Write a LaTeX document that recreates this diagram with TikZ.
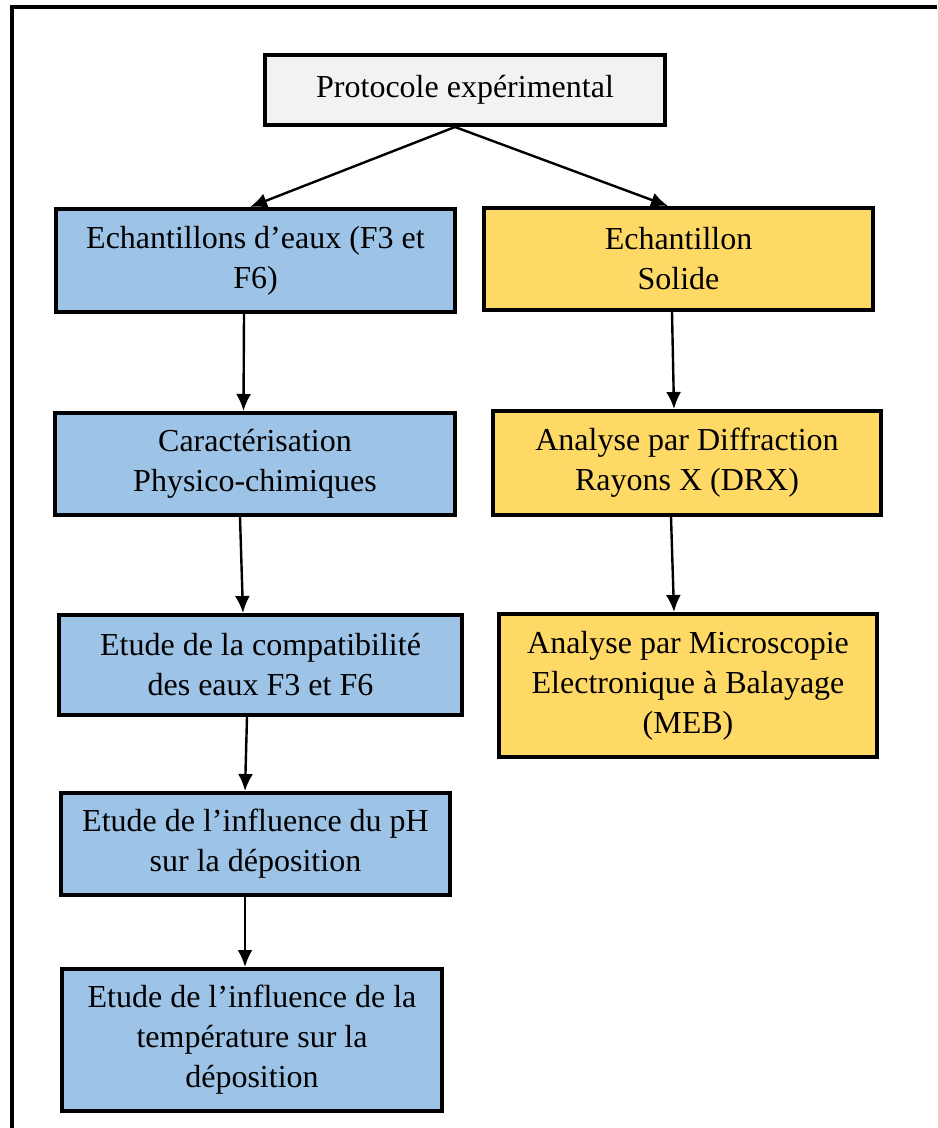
\documentclass[tikz,border=0pt]{standalone}
\usepackage{fontspec}
\setmainfont{Liberation Serif}
\usepackage{tikz}
\usetikzlibrary{arrows.meta}
\definecolor{bleuclair}{HTML}{9DC3E6}
\definecolor{jaune}{HTML}{FFD966}
\definecolor{grisclair}{HTML}{F2F2F2}

\tikzset{
  boite/.style={draw, line width=2pt, align=center, inner sep=0pt,
    font=\fontsize{16}{20}\selectfont},
  eau/.style={boite, fill=bleuclair},
  solide/.style={boite, fill=jaune},
  fleche/.style={-{Latex[length=8.5pt,width=7.5pt]}, line width=1.2pt},
}

\begin{document}
\begin{tikzpicture}[x=0.5pt, y=-0.5pt]
    \useasboundingbox (0,0) rectangle (937,1128);
    % cadre
    \draw[line width=2pt] (12,1128) -- (12,7) -- (937,7);
    \node[boite, fill=grisclair, minimum width=200pt, minimum height=35pt] (proto) at (465,90) {Protocole expérimental};
    % colonne eaux
    \node[eau, minimum width=199.5pt, minimum height=51.5pt] (eaux) at (255.5,260.5) {Echantillons d’eaux (F3 et\\F6)};
    \node[eau, minimum width=200pt, minimum height=51pt] (caract) at (255,464) {Caractérisation\\Physico-chimiques};
    \node[eau, minimum width=201.5pt, minimum height=50pt] (compat) at (260.5,665) {Etude de la compatibilité\\des eaux F3 et F6};
    \node[eau, minimum width=194.5pt, minimum height=51pt] (ph) at (255.5,844) {Etude de l’influence du pH\\sur la déposition};
    \node[eau, minimum width=190pt, minimum height=71pt] (temp) at (252,1040) {Etude de l’influence de la\\température sur la\\déposition};
    % colonne solide
    \node[solide, minimum width=194.5pt, minimum height=51pt] (solide) at (678.5,259) {Echantillon\\Solide};
    \node[solide, minimum width=194pt, minimum height=52pt] (drx) at (687,463) {Analyse par Diffraction\\Rayons X (DRX)};
    \node[solide, minimum width=189pt, minimum height=71.5pt] (meb) at (688,685.5) {Analyse par Microscopie\\Electronique à Balayage\\(MEB)};
    % fleches
    \draw[fleche] ([xshift=-5pt]proto.south) -- ([xshift=-2.75pt]eaux.north);
    \draw[fleche] ([xshift=-5pt]proto.south) -- ([xshift=-5.25pt]solide.north);
    \draw[fleche] ([xshift=-5.75pt]eaux.south) -- ([xshift=-5.75pt]caract.north);
    \draw[fleche] ([xshift=-7.5pt]caract.south) -- ([xshift=-8.75pt]compat.north);
    \draw[fleche] ([xshift=-6.75pt]compat.south) -- ([xshift=-5.25pt]ph.north);
    \draw[fleche] ([xshift=-5.25pt]ph.south) -- ([xshift=-3.5pt]temp.north);
    \draw[fleche] ([xshift=-3.25pt]solide.south) -- ([xshift=-6.5pt]drx.north);
    \draw[fleche] ([xshift=-8pt]drx.south) -- ([xshift=-7pt]meb.north);
\end{tikzpicture}
\end{document}
